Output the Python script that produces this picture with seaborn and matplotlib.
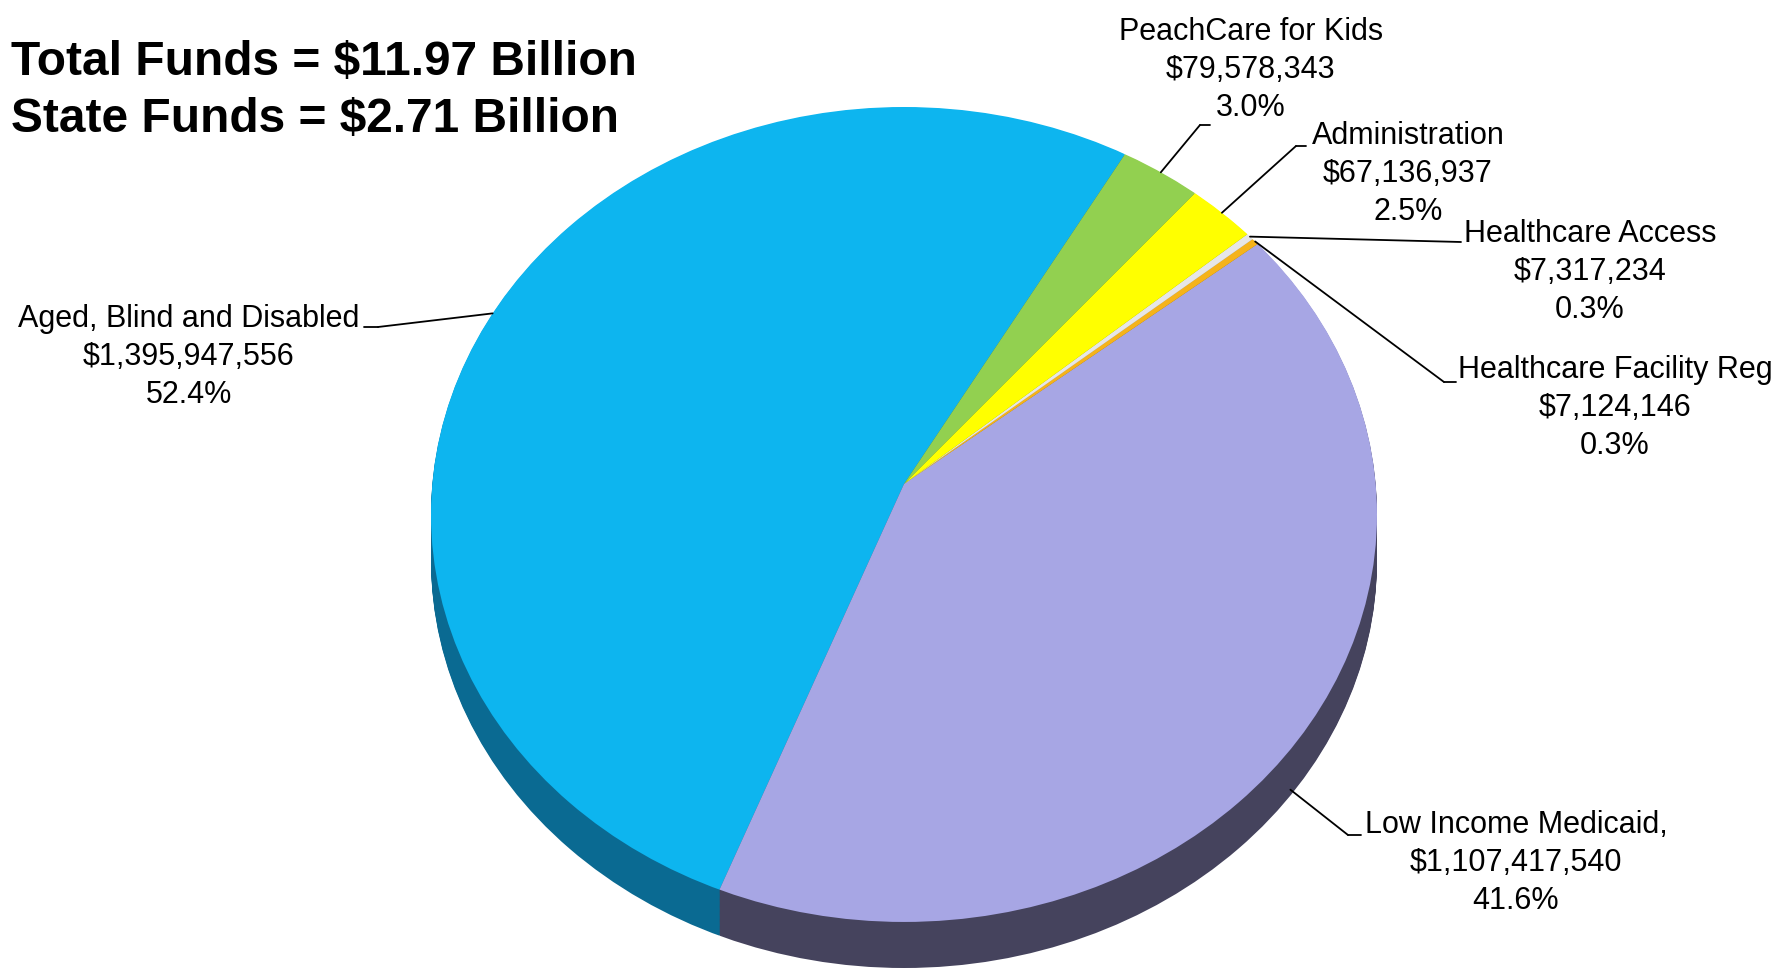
import numpy as np
import pandas as pd
import seaborn as sns
import matplotlib
matplotlib.use("Agg")
import matplotlib.pyplot as plt
from matplotlib.lines import Line2D
from matplotlib.patches import Ellipse

# ---------------- data ----------------
categories = ["Aged, Blind and Disabled", "Low Income Medicaid,", "Healthcare Facility Reg",
              "Healthcare Access", "Administration", "PeachCare for Kids"]
amounts = [1395947556, 1107417540, 7124146, 7317234, 67136937, 79578343]
title_lines = ["Total Funds = $11.97 Billion", "State Funds = $2.71 Billion"]

top_colors = ["#0DB5EF", "#A7A6E4", "#F5B31A", "#E6E6E6", "#FFFF00", "#92D050"]
side_colors = ["#0A6A92", "#45435D", "#9A7010", "#999999", "#A0A000", "#5A8A30"]

df = pd.DataFrame({"category": categories, "amount": amounts})
total = df["amount"].sum()
df["pct"] = df["amount"] / total * 100

# ---------------- layout ----------------
W, H = 1787, 973
sns.set_theme(style="white")
plt.rcParams["font.family"] = ["Liberation Sans", "DejaVu Sans"]
plt.rcParams["text.color"] = "black"

fig = plt.figure(figsize=(W / 100, H / 100), dpi=100)
fig.patch.set_facecolor("white")

def fpx(x, y):
    return (x / W, 1 - y / H)

depth = 0.113     # thickness of the disc (axes units)
apex = 0.075      # perspective: apex of the wedges sits above the disc centre
left_px, right_px, top_px, bot_px = 431, 1377, 107, 968
ax = fig.add_axes([left_px / W, 1 - bot_px / H, (right_px - left_px) / W, (bot_px - top_px) / H])
start = 60

def draw_layer(dy, colors):
    ws, _ = ax.pie(df["amount"], colors=colors, startangle=start, counterclock=True,
                   radius=1.4, center=(0, apex - dy),
                   wedgeprops=dict(linewidth=0, antialiased=True))
    clip = Ellipse((0, -dy), 2, 2, transform=ax.transData)
    for w in ws:
        w.set_clip_on(True)
        w.set_clip_path(clip)
    return ws

for d in np.linspace(depth, 0.002, 40):
    draw_layer(d, side_colors)
wedges = draw_layer(0.0, top_colors)

ax.set_aspect("auto")
ax.set_xlim(-1, 1)
ax.set_ylim(-1 - depth, 1)
ax.axis("off")

# label layout: text centre (px), anchor fraction within wedge, anchor radius, elbow, end (px)
layout = {
    "Aged, Blind and Disabled": dict(c=(189, 357), frac=0.5, r=1.0, elbow=(378, 327), end=(364, 327)),
    "Low Income Medicaid,": dict(c=(1516, 863), frac=0.46, r=1.06, elbow=(1348, 835), end=(1361, 835)),
    "Healthcare Facility Reg": dict(c=(1615, 408), frac=0.5, r=1.0, elbow=(1444, 382), end=(1456, 382)),
    "Healthcare Access": dict(c=(1590, 272), frac=0.5, r=1.0, elbow=(1461, 242), end=(1461, 242)),
    "Administration": dict(c=(1408, 174), frac=0.5, r=1.0, elbow=(1296, 146), end=(1306, 146)),
    "PeachCare for Kids": dict(c=(1251, 70), frac=0.5, r=1.0, elbow=(1200, 125), end=(1210, 125)),
}

for w, (_, row) in zip(wedges, df.iterrows()):
    L = layout[row["category"]]
    ang = np.deg2rad(w.theta1 + L["frac"] * (w.theta2 - w.theta1))
    c, s = np.cos(ang), np.sin(ang)
    t = -apex * s + np.sqrt((apex * s) ** 2 - apex ** 2 + L["r"] ** 2)
    rx, ry = t * c, apex + t * s
    txt = f"{row['category']}\n${row['amount']:,}\n{row['pct']:.1f}%"
    fig.text(*fpx(*L["c"]), txt, ha="center", va="center", fontsize=22,
             linespacing=1.36, color="black")
    ax.annotate("", xy=(rx, ry), xycoords="data", xytext=fpx(*L["elbow"]),
                textcoords="figure fraction", annotation_clip=False,
                arrowprops=dict(arrowstyle="-", color="black", lw=1.3, shrinkA=0, shrinkB=0))
    if L["elbow"] != L["end"]:
        (x0, y0), (x1, y1) = fpx(*L["elbow"]), fpx(*L["end"])
        fig.add_artist(Line2D([x0, x1], [y0, y1], transform=fig.transFigure, color="black", lw=1.3))

# title lines
fig.text(*fpx(11, 75), title_lines[0], ha="left", va="baseline", fontsize=34.5,
         fontweight="bold", color="black")
fig.text(*fpx(11, 132), title_lines[1], ha="left", va="baseline", fontsize=34.5,
         fontweight="bold", color="black")

fig.savefig("out.png", dpi=100, facecolor="white")
